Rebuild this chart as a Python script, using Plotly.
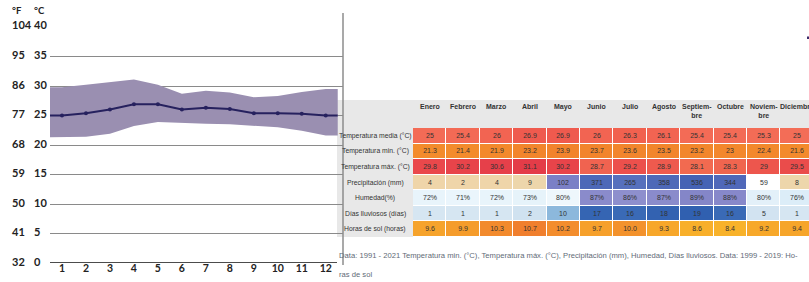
import plotly.graph_objects as go

W, H = 809, 282

# ---------------- data ----------------
months_num = list(range(1, 13))
month_names = ["Enero", "Febrero", "Marzo", "Abril", "Mayo", "Junio", "Julio",
               "Agosto", "Septiem-<br>bre", "Octubre", "Noviem-<br>bre", "Diciembre"]
temp_media = [25, 25.4, 26, 26.9, 26.9, 26, 26.3, 26.1, 25.4, 25.4, 25.3, 25]
temp_min = [21.3, 21.4, 21.9, 23.2, 23.9, 23.7, 23.6, 23.5, 23.2, 23, 22.4, 21.6]
temp_max = [29.8, 30.2, 30.6, 31.1, 30.2, 28.7, 29.2, 28.9, 28.1, 28.3, 29, 29.5]
precip = [4, 2, 4, 9, 102, 371, 265, 358, 536, 344, 59, 8]
humedad = [72, 71, 72, 73, 80, 87, 86, 87, 89, 88, 80, 76]
dias_lluvia = [1, 1, 1, 2, 10, 17, 16, 18, 19, 16, 5, 1]
horas_sol = [9.6, 9.9, 10.3, 10.7, 10.2, 9.7, 10.0, 9.3, 8.6, 8.4, 9.2, 9.4]
row_labels = ["Temperatura media (°C)", "Temperatura min. (°C)", "Temperatura máx. (°C)",
              "Precipitación (mm)", "Humedad(%)", "Días lluviosos (días)", "Horas de sol (horas)"]
c_ticks = [40, 35, 30, 25, 20, 15, 10, 5, 0]
f_ticks = [104, 95, 86, 77, 68, 59, 50, 41, 32]
footer_1 = "Data: 1991 - 2021 Temperatura min. (°C), Temperatura máx. (°C), Precipitación (mm), Humedad, Días lluviosos. Data: 1999 - 2019: Ho-"
footer_2 = "ras de sol"

# ---------------- styles ----------------
cell_colors = [
    ["#f36b56", "#f36a55", "#f26452", "#ef5a4e", "#ef5a4e", "#f26452", "#f1614f", "#f26452", "#f36b56", "#f36b56", "#f36c56", "#f36d57"],
    ["#f38b2c", "#f38b2c", "#f3892c", "#f2852c", "#f2832c", "#f2842c", "#f2852c", "#f2852c", "#f2862c", "#f3872c", "#f3882c", "#f38a2c"],
    ["#ea484b", "#e8444a", "#e6404a", "#e43c48", "#e8444a", "#f06350", "#ec504c", "#ee5a4e", "#f26a50", "#f0654f", "#ed564d", "#ea4c4b"],
    ["#efd5a9", "#efd5a9", "#efd5a9", "#edd6ab", "#7b80c6", "#4d68b8", "#5670bd", "#4e69b8", "#4563b5", "#5068b9", "#ffffff", "#edd6ab"],
    ["#e8f4fb", "#eaf5fc", "#e8f4fb", "#e6f3fa", "#eef7fc", "#8a8bcb", "#8e8fcd", "#8a8bcb", "#8486c8", "#8788ca", "#e3f0f9", "#dcedf8"],
    ["#d6e6f2", "#d6e6f2", "#d6e6f2", "#d0e2f0", "#8cb8dc", "#3565b3", "#3a6ab6", "#3362b1", "#3060b0", "#3a6ab6", "#d2e3f1", "#d6e6f2"],
    ["#f6a32b", "#f59c2b", "#f28a2d", "#f07f2e", "#f38d2d", "#f6a02b", "#f3922c", "#f7a72a", "#f8af2a", "#f8b22a", "#f7a82a", "#f6a52a"],
]
BAND = "#9a8fb1"
LINE = "#26215e"
GRID = "#8a8a8a"
GRAY = "#e8e8e8"
TXT = "#333333"
SANS = "Liberation Sans"
GEO = "Lato"

def px_x(x):
    return x / W

def px_y(y):
    return 1 - y / H

fig = go.Figure()

# ---------------- left chart ----------------
X_START, X_END = 0.5, 12.5
xs = [X_START] + months_num + [X_END]
def pad(v):
    return [v[0]] + v + [v[-1]]

fig.add_trace(go.Scatter(x=xs, y=pad(temp_min), mode="lines", line=dict(width=0),
                         hoverinfo="skip", showlegend=False, xaxis="x", yaxis="y"))
fig.add_trace(go.Scatter(x=xs, y=pad(temp_max), mode="lines", line=dict(width=0),
                         fill="tonexty", fillcolor=BAND, hoverinfo="skip",
                         showlegend=False, xaxis="x", yaxis="y"))
fig.add_trace(go.Scatter(x=xs, y=pad(temp_media), mode="lines", line=dict(color=LINE, width=2),
                         showlegend=False, xaxis="x", yaxis="y"))
fig.add_trace(go.Scatter(x=months_num, y=temp_media, mode="markers",
                         marker=dict(color=LINE, size=4), showlegend=False,
                         xaxis="x", yaxis="y"))

# ---------------- table as heatmap ----------------
rows = [temp_media, temp_min, temp_max, precip, humedad, dias_lluvia, horas_sol]
fmts = ["{:g}", "{:g}", "{:g}", "{:d}", "{:d}%", "{:d}", "{:.1f}"]
texts = [[f.format(v) for v in r] for r, f in zip(rows, fmts)]
ncols = len(month_names)
flat = [c for r in cell_colors for c in r]
N = len(flat)
cscale = []
for k, c in enumerate(flat):
    cscale.append([k / N, c])
    cscale.append([(k + 1) / N, c])
z = [[i * ncols + j for j in range(ncols)] for i in range(len(rows))]
col_keys = [m.replace("<br>", "") for m in month_names]

fig.add_trace(go.Heatmap(
    x=col_keys, y=row_labels, z=z, text=texts, texttemplate="%{text}",
    textfont=dict(family=SANS, size=7, color=TXT),
    colorscale=cscale, zmin=-0.5, zmax=N - 0.5, showscale=False,
    xgap=1, ygap=1, hoverinfo="skip", xaxis="x2", yaxis="y2"))

annotations = []
# table headers
for key, name in zip(col_keys, month_names):
    annotations.append(dict(x=key, y=px_y(101), xref="x2", yref="paper", text=name,
                            showarrow=False, xanchor="center", yanchor="top",
                            font=dict(family=SANS, size=7, color=TXT, weight="bold")))
# row labels
for lab in row_labels:
    annotations.append(dict(x=px_x(375), y=lab, xref="paper", yref="y2", text=lab,
                            showarrow=False, xanchor="center", yanchor="middle",
                            font=dict(family=SANS, size=6.8, color=TXT)))
# y tick labels (°C and °F)
for c, f in zip(c_ticks, f_ticks):
    annotations.append(dict(x=px_x(32), y=c, xref="paper", yref="y", text=str(c),
                            showarrow=False, xanchor="left", yanchor="middle", yshift=2,
                            font=dict(family=GEO, size=11, color="#222", weight="bold")))
    annotations.append(dict(x=px_x(10), y=c, xref="paper", yref="y", text=str(f),
                            showarrow=False, xanchor="left", yanchor="middle", yshift=2,
                            font=dict(family=GEO, size=11, color="#222", weight="bold")))
annotations.append(dict(x=px_x(10), y=px_y(10), xref="paper", yref="paper", text="°F",
                        showarrow=False, xanchor="left", yanchor="middle",
                        font=dict(family=GEO, size=9.5, color="#222", weight="bold")))
annotations.append(dict(x=px_x(32), y=px_y(10), xref="paper", yref="paper", text="°C",
                        showarrow=False, xanchor="left", yanchor="middle",
                        font=dict(family=GEO, size=9.5, color="#222", weight="bold")))
# footer
annotations.append(dict(x=px_x(337), y=px_y(255), xref="paper", yref="paper", text=footer_1,
                        showarrow=False, xanchor="left", yanchor="middle",
                        font=dict(family=SANS, size=7.65, color="#5f6b77")))
annotations.append(dict(x=px_x(337), y=px_y(274), xref="paper", yref="paper", text=footer_2,
                        showarrow=False, xanchor="left", yanchor="middle",
                        font=dict(family=SANS, size=7.65, color="#5f6b77")))

shapes = [
    # table gray backgrounds
    dict(type="rect", xref="paper", yref="paper", x0=px_x(337), x1=px_x(413),
         y0=px_y(237), y1=px_y(100), fillcolor=GRAY, line=dict(width=0), layer="below"),
    dict(type="rect", xref="paper", yref="paper", x0=px_x(413), x1=1,
         y0=px_y(128), y1=px_y(100), fillcolor=GRAY, line=dict(width=0), layer="below"),
    # divider
    dict(type="line", xref="paper", yref="paper", x0=px_x(343), x1=px_x(343),
         y0=px_y(13), y1=px_y(265), line=dict(color="#8c8c8c", width=1.5), layer="above"),
    # x axis base line
    dict(type="line", xref="paper", yref="y", x0=px_x(50), x1=px_x(337), y0=0, y1=0,
         line=dict(color="#111111", width=1.5), layer="above"),
    # small mark at right edge
    dict(type="rect", xref="paper", yref="paper", x0=px_x(807), x1=1,
         y0=px_y(39), y1=px_y(36.5), fillcolor="#3a2a6a", line=dict(width=0)),
]

fig.update_layout(
    width=W, height=H, margin=dict(l=0, r=0, t=0, b=0),
    paper_bgcolor="white", plot_bgcolor="white",
    showlegend=False,
    xaxis=dict(domain=[px_x(50), px_x(343)], range=[0.5, 12.72], tickvals=months_num,
               ticktext=[str(m) for m in months_num], showgrid=False, zeroline=False,
               showline=False, ticks="", fixedrange=True, ticklabelstandoff=-3,
               tickfont=dict(family=GEO, size=10.5, color="#222", weight="bold")),
    yaxis=dict(domain=[px_y(263), px_y(27)], range=[0, 40], tickvals=[5, 10, 15, 20, 25, 30, 35, 40],
               showticklabels=False, showgrid=True, gridcolor=GRID, gridwidth=1,
               zeroline=False, showline=False, ticks="", fixedrange=True),
    xaxis2=dict(domain=[px_x(413), 1], range=[-0.5, -0.5 + (W - 413) / 33.4],
                showticklabels=False, showgrid=False, zeroline=False, showline=False,
                ticks="", anchor="y2", type="category", categoryorder="array",
                categoryarray=col_keys, fixedrange=True),
    yaxis2=dict(domain=[px_y(237), px_y(128)], range=[6.5, -0.5], type="category",
                categoryorder="array", categoryarray=row_labels,
                showticklabels=False, showgrid=False, zeroline=False, showline=False,
                ticks="", anchor="x2", fixedrange=True),
    annotations=annotations, shapes=shapes,
)

fig.write_html("out.html", config={"displayModeBar": False},
               post_script="document.body.style.margin='0';document.body.style.overflow='hidden';")
